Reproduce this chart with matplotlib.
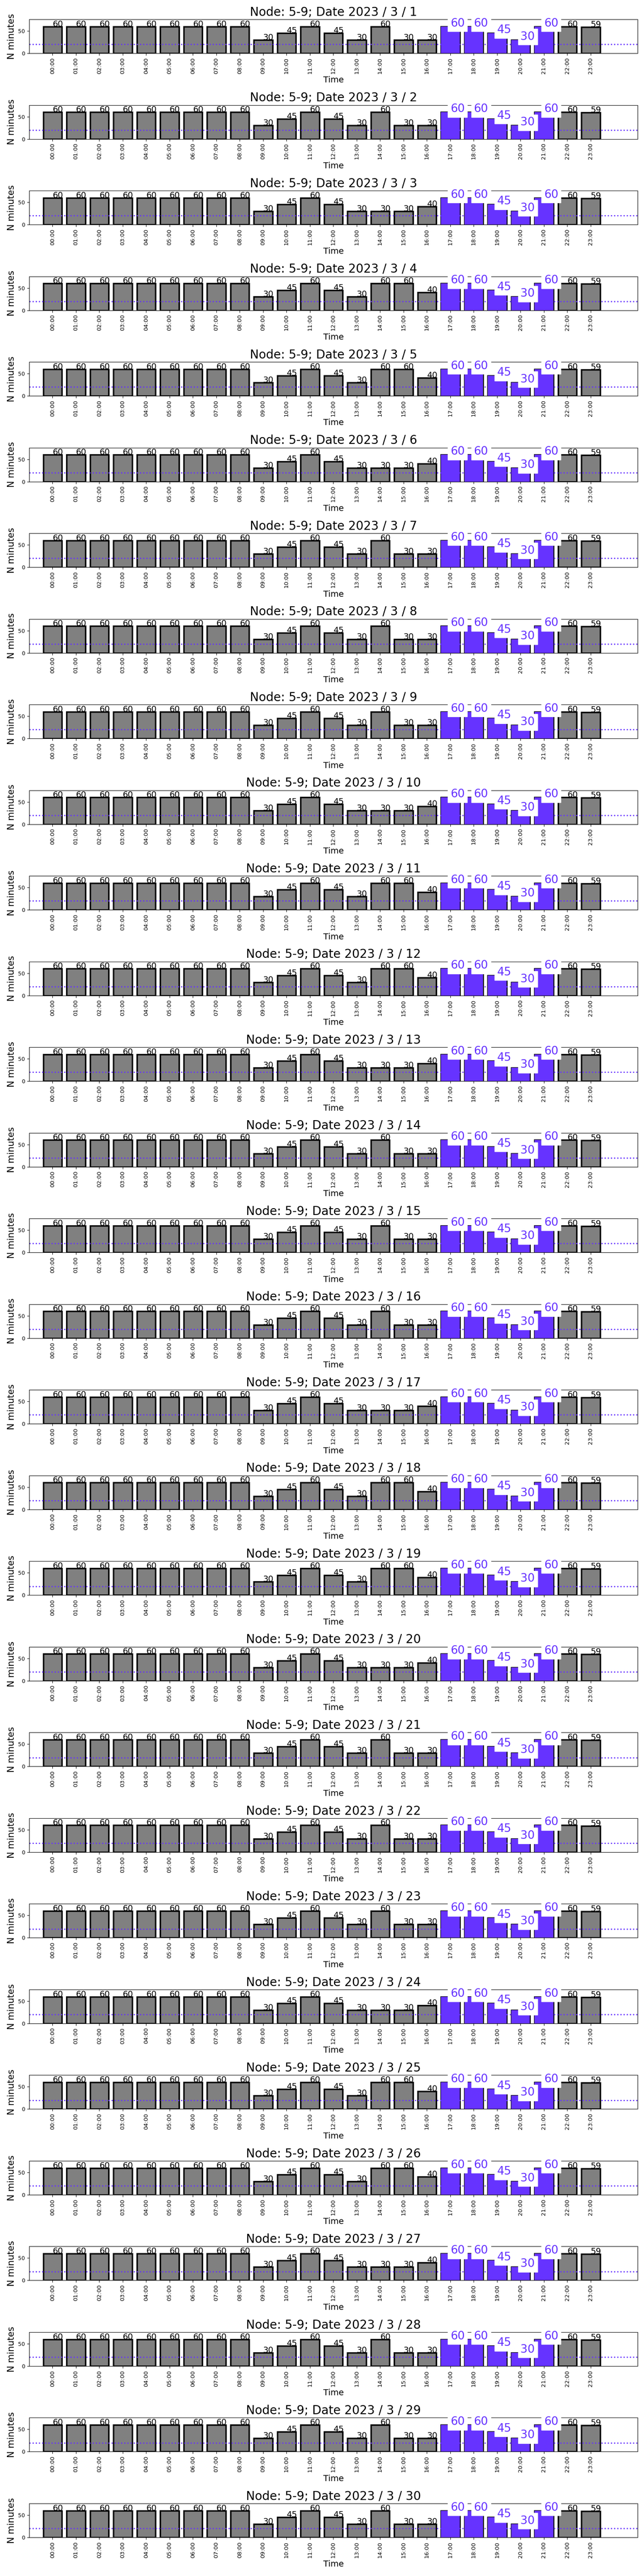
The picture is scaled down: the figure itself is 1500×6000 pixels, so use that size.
import matplotlib
matplotlib.use("Agg")
import matplotlib.pyplot as plt

##=============================================================================
## DATA

node = "5-9"
year, month = 2023, 3
days = [1, 2, 3, 4, 5, 6, 7, 8, 9, 10, 11, 12, 13, 14, 15,
	16, 17, 18, 19, 20, 21, 22, 23, 24, 25, 26, 27, 28, 29, 30]

hours = ["00:00", "01:00", "02:00", "03:00", "04:00", "05:00", "06:00", "07:00",
	"08:00", "09:00", "10:00", "11:00", "12:00", "13:00", "14:00", "15:00",
	"16:00", "17:00", "18:00", "19:00", "20:00", "21:00", "22:00", "23:00"]

## Minutes per hour, 00:00-13:00 (same every day)
mins_00_13 = [60, 60, 60, 60, 60, 60, 60, 60, 60, 30, 45, 60, 45, 30]
## Minutes per hour, 14:00-16:00 (one triple per day)
mins_14_16 = [
	[60, 30, 30], [60, 30, 30], [30, 30, 40], [60, 60, 40], [60, 60, 40],
	[30, 30, 40], [60, 30, 30], [60, 30, 30], [60, 30, 30], [30, 30, 40],
	[60, 60, 40], [60, 60, 40], [30, 30, 40], [60, 30, 30], [60, 30, 30],
	[60, 30, 30], [30, 30, 40], [60, 60, 40], [60, 60, 40], [30, 30, 40],
	[60, 30, 30], [60, 30, 30], [60, 30, 30], [30, 30, 40], [60, 60, 40],
	[60, 60, 40], [30, 30, 40], [60, 30, 30], [60, 30, 30], [60, 30, 30]]
## Minutes per hour, 17:00-23:00 (same every day)
mins_17_23 = [60, 60, 45, 30, 60, 60, 59]

## Highlighted (peak) hours and threshold line
peak_hours = ["17:00", "18:00", "19:00", "20:00", "21:00"]
threshold = 20

##=============================================================================

purple = "#6633ff"
fsa, fsl, fsp, fst = 15, 14, 19, 20

def plot_day(ax, day, minutes):
	"""
	One bar panel for a single day
	"""
	x = list(range(len(hours)))
	ispeak = [h in peak_hours for h in hours]

	## All bars grey first, line, then peak bars on top
	ax.bar(x, minutes, width=0.8, color="grey", edgecolor="black", linewidth=2.5, zorder=1)
	ax.axhline(threshold, color=purple, ls=":", lw=2, zorder=1.5)
	px = [i for i in x if ispeak[i]]
	pv = [minutes[i] for i in x if ispeak[i]]
	ax.bar(px, pv, width=0.8, color=purple, edgecolor="none", linewidth=0, zorder=2)

	## Values on top
	for i, v in enumerate(minutes):
		if ispeak[i]:
			ax.text(i, v, str(v), color=purple, fontsize=fsp, zorder=4,
				bbox=dict(facecolor="white", edgecolor="white"))
		else:
			ax.text(i, v, str(v), color="black", fontsize=fsl, zorder=4)

	## Accoutrements
	ax.set_xlim(-1, 25)
	ax.set_ylim(0, 76)
	ax.set_yticks([0, 50])
	ax.tick_params(axis="y", labelsize=9)
	ax.set_xticks(x)
	ax.set_xticklabels(hours, rotation=90, fontsize=9.5)
	ax.set_xlabel("Time", fontsize=14)
	ax.set_ylabel("N minutes", fontsize=fsa)
	ax.set_title("Node: %s; Date %d / %d / %d" % (node, year, month, day), fontsize=fst)
	return

##=============================================================================

fig, axs = plt.subplots(len(days), 1, figsize=(15, 60), dpi=100)
for k, day in enumerate(days):
	minutes = mins_00_13 + mins_14_16[k] + mins_17_23
	plot_day(axs[k], day, minutes)

fig.subplots_adjust(left=0.0453, right=0.99, top=0.9925, bottom=0.015, hspace=1.525)
fig.savefig("out.png", dpi=100)
